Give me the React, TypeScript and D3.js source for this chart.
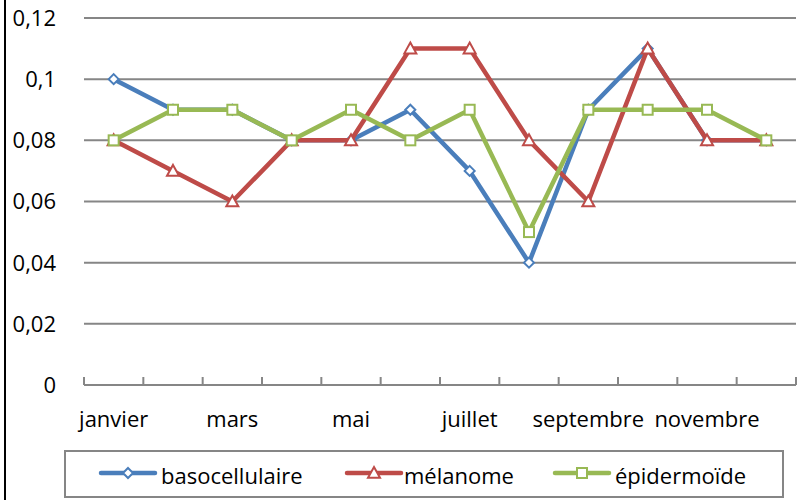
import React from 'react'
import * as d3 from 'd3'

const months = ['janvier', 'février', 'mars', 'avril', 'mai', 'juin', 'juillet', 'août', 'septembre', 'octobre', 'novembre', 'décembre']
const basocellulaire = [0.10, 0.09, 0.09, 0.08, 0.08, 0.09, 0.07, 0.04, 0.09, 0.11, 0.08, 0.08]
const melanome = [0.08, 0.07, 0.06, 0.08, 0.08, 0.11, 0.11, 0.08, 0.06, 0.11, 0.08, 0.08]
const epidermoide = [0.08, 0.09, 0.09, 0.08, 0.09, 0.08, 0.09, 0.05, 0.09, 0.09, 0.09, 0.08]
const yTicks = [0, 0.02, 0.04, 0.06, 0.08, 0.1, 0.12]

const W = 797, H = 500
const FONT = '"Open Sans", "Noto Sans", sans-serif'
const FS = 22

const series = [
  { name: 'basocellulaire', values: basocellulaire, color: '#4a7ebb', marker: 'diamond' },
  { name: 'mélanome', values: melanome, color: '#be4b48', marker: 'triangle' },
  { name: 'épidermoïde', values: epidermoide, color: '#98b954', marker: 'square' },
]

function Marker({ type, x, y, color }: { type: string; x: number; y: number; color: string }) {
  if (type === 'diamond') {
    const s = 5
    return <path d={`M${x},${y - s}L${x + s},${y}L${x},${y + s}L${x - s},${y}Z`} fill="#fff" stroke={color} strokeWidth={2} />
  }
  if (type === 'triangle') {
    const s = 6
    return <path d={`M${x},${y - s}L${x + s},${y + s * 0.8}L${x - s},${y + s * 0.8}Z`} fill="#fff" stroke={color} strokeWidth={2} />
  }
  return <rect x={x - 5} y={y - 5} width={10} height={10} fill="#fff" stroke={color} strokeWidth={2} />
}

export default function App() {
  const left = 84, right = 796, top = 18, bottom = 385
  const x = d3.scaleBand<string>().domain(months).range([left, right])
  const y = d3.scaleLinear().domain([0, 0.12]).range([bottom, top])
  const cx = (m: string) => (x(m) ?? 0) + x.bandwidth() / 2
  const fmt = (v: number) => String(+v.toFixed(2)).replace('.', ',')
  const line = d3.line<number>().x((_, i) => cx(months[i])).y(d => y(d))

  // legend positions: line start, text start
  const legendItems = [
    { lx: 101, tx: 161 },
    { lx: 347, tx: 404 },
    { lx: 555, tx: 615 },
  ]

  return (
    <svg width={W} height={H} style={{ position: 'absolute', left: 0, top: 0, background: '#fff' }} fontFamily={FONT}>
      <rect x={0} y={0} width={W} height={H} fill="#fff" />
      <line x1={5} x2={5} y1={0} y2={H} stroke="#000" strokeWidth={2} />
      {yTicks.map(t => (
        <g key={t}>
          {t > 0 && <line x1={left} x2={right} y1={y(t)} y2={y(t)} stroke="#868686" strokeWidth={2} />}
          <text x={56} y={y(t)} dy="0.36em" textAnchor="end" fontSize={FS} fill="#000">{fmt(t)}</text>
        </g>
      ))}
      <line x1={left} x2={right} y1={bottom} y2={bottom} stroke="#868686" strokeWidth={2} />
      {d3.range(months.length + 1).map(i => {
        const tx = left + i * x.bandwidth()
        return <line key={i} x1={tx} x2={tx} y1={bottom - 8} y2={bottom} stroke="#868686" strokeWidth={2} />
      })}
      {months.map((m, i) => i % 2 === 0 && (
        <text key={m} x={cx(m)} y={427} textAnchor="middle" fontSize={FS} fill="#000">{m}</text>
      ))}
      {series.map(s => (
        <g key={s.name}>
          <path d={line(s.values) ?? ''} fill="none" stroke={s.color} strokeWidth={4.5} strokeLinejoin="round" />
          {s.values.map((v, i) => <Marker key={i} type={s.marker} x={cx(months[i])} y={y(v)} color={s.color} />)}
        </g>
      ))}
      <rect x={65} y={451} width={718} height={46} fill="#fff" stroke="#868686" strokeWidth={2} />
      {series.map((s, i) => (
        <g key={s.name}>
          <line x1={legendItems[i].lx} x2={legendItems[i].lx + 54} y1={473} y2={473} stroke={s.color} strokeWidth={4.5} strokeLinecap="round" />
          <Marker type={s.marker} x={legendItems[i].lx + 27} y={473} color={s.color} />
          <text x={legendItems[i].tx} y={476} dy="0.35em" fontSize={FS} fill="#000">{s.name}</text>
        </g>
      ))}
    </svg>
  )
}
